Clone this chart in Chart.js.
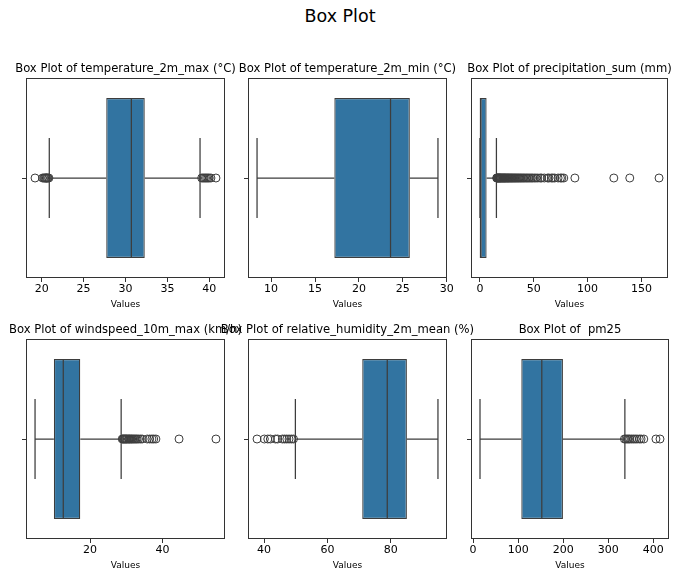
<!DOCTYPE html>
<html>
<head>
<meta charset="utf-8">
<script src="https://cdn.jsdelivr.net/npm/chart.js@4.4.1/dist/chart.umd.min.js"></script>
<style>
  html, body { margin: 0; padding: 0; background: #fff; }
  #page { position: relative; width: 680px; height: 580px; overflow: hidden; font-family: "DejaVu Sans", sans-serif; }
  #mainTitle { position: absolute; left: 0; top: 8px; width: 680px; text-align: center; font-size: 17.5px; line-height: 17.5px; color: #000; }
  canvas { position: absolute; }
</style>
</head>
<body>
<div id="page">
  <div id="mainTitle">Box Plot</div>
</div>
<script>
// Values (one entry per panel)
const panelTitles = [
    'Box Plot of temperature_2m_max (°C)',
    'Box Plot of temperature_2m_min (°C)',
    'Box Plot of precipitation_sum (mm)',
    'Box Plot of windspeed_10m_max (km/h)',
    'Box Plot of relative_humidity_2m_mean (%)',
    'Box Plot of  pm25'
];
const q1 = [27.7, 17.2, 0.0, 10.0, 71.0, 107];
const medians = [30.7, 23.6, 0.5, 12.6, 78.9, 152.5];
const q3 = [32.3, 25.8, 6.2, 17.3, 85.1, 199.5];
const whiskerLow = [20.9, 8.4, 0.0, 4.8, 49.9, 15.3];
const whiskerHigh = [38.9, 29.0, 15.3, 28.6, 94.9, 337];

const tempMaxOutliers = [19.2, 20.1, 20.25, 20.35, 20.45, 20.55, 20.65, 20.75, 20.85,
    39.1, 39.25, 39.4, 39.55, 39.7, 39.85, 40.0, 40.2, 40.8];
const tempMinOutliers = [];
const precipOutliers = [
    15.5, 15.9, 16.3, 16.8, 17.2, 17.7, 18.1, 18.6, 19.0, 19.5, 20.1, 20.6, 21.2, 21.7,
    22.3, 22.9, 23.4, 24.0, 24.7, 25.3, 26.0, 26.6, 27.3, 28.0, 28.8, 29.5, 30.3, 31.1,
    32.0, 32.8, 33.7, 34.6, 35.5, 36.4, 37.4, 38.3, 39.4, 40.5, 41.6, 42.8, 43.9, 45.1,
    46.4, 47.7, 49.0, 50.6, 52.1, 53.8, 55.9, 57.2, 59.8, 62.9, 64.1, 66.3, 67.7, 69.4,
    72.6, 74.8, 76.1, 77.9, 88.2, 124.4, 139.2, 166.4
];
const windOutliers = [28.9, 29.1, 29.3, 29.5, 29.7, 29.9, 30.1, 30.3, 30.6, 30.8, 31.0, 31.3,
    31.5, 31.8, 32.1, 32.4, 32.7, 33.0, 33.4, 33.9, 34.4, 35.8, 36.5, 37.1, 37.6, 38.2, 44.6, 54.8];
const humidityOutliers = [37.8, 40.1, 41.2, 42.0, 43.6, 44.3, 45.8, 46.5, 47.2, 47.9, 48.6, 49.3];
const pm25Outliers = [336, 339, 342, 345, 348, 352, 356, 360, 364, 369, 373, 379, 406, 415];
const outliers = [tempMaxOutliers, tempMinOutliers, precipOutliers, windOutliers, humidityOutliers, pm25Outliers];

const xTicks = [
    [20, 25, 30, 35, 40],
    [10, 15, 20, 25, 30],
    [0, 50, 100, 150],
    [20, 40],
    [40, 60, 80],
    [0, 100, 200, 300, 400]
];

// Layout of the 2x3 grid (plot area of each panel, in page pixels)
const axLeft = [26, 248, 471, 26, 248, 471];
const axTop = [78, 78, 78, 339, 339, 339];
const axWidth = [199, 199, 197, 199, 199, 198];
const AX_HEIGHT = 200;
const SIDE = 40, TOP = 28, BOTTOM = 40;

const FONT = '"DejaVu Sans", sans-serif';
const boxFill = '#3274a1';
const lineColor = '#3d3d3d';

// whiskers, caps, median, frame and panel title
const boxDecor = {
    id: 'boxDecor',
    beforeDatasetsDraw(chart, args, opts) {
        const i = opts.panel;
        const x = chart.scales.x;
        const bar = chart.getDatasetMeta(0).data[0];
        const ctx = chart.ctx;
        const yc = bar.y, cap = bar.height / 4;
        ctx.save();
        ctx.strokeStyle = lineColor;
        ctx.lineWidth = 1.25;
        ctx.beginPath();
        ctx.moveTo(x.getPixelForValue(whiskerLow[i]), yc);
        ctx.lineTo(x.getPixelForValue(q1[i]), yc);
        ctx.moveTo(x.getPixelForValue(q3[i]), yc);
        ctx.lineTo(x.getPixelForValue(whiskerHigh[i]), yc);
        [whiskerLow[i], whiskerHigh[i]].forEach(v => {
            const px = x.getPixelForValue(v);
            ctx.moveTo(px, yc - cap);
            ctx.lineTo(px, yc + cap);
        });
        ctx.stroke();
        ctx.restore();
    },
    afterDatasetsDraw(chart, args, opts) {
        const i = opts.panel;
        const bar = chart.getDatasetMeta(0).data[0];
        const px = chart.scales.x.getPixelForValue(medians[i]);
        const ctx = chart.ctx;
        ctx.save();
        ctx.strokeStyle = lineColor;
        ctx.lineWidth = 1.25;
        ctx.beginPath();
        ctx.moveTo(px, bar.y - bar.height / 2);
        ctx.lineTo(px, bar.y + bar.height / 2);
        ctx.stroke();
        ctx.restore();
    },
    afterDraw(chart, args, opts) {
        const a = chart.chartArea;
        const ctx = chart.ctx;
        ctx.save();
        ctx.strokeStyle = '#333';
        ctx.lineWidth = 1;
        ctx.strokeRect(a.left + 0.5, a.top + 0.5, a.right - a.left - 1, a.bottom - a.top - 1);
        ctx.fillStyle = '#000';
        ctx.font = '11.6px ' + FONT;
        ctx.textAlign = 'center';
        ctx.textBaseline = 'alphabetic';
        ctx.fillText(panelTitles[opts.panel], (a.left + a.right) / 2, a.top - 6.3);
        ctx.restore();
    }
};

const page = document.getElementById('page');

panelTitles.forEach((title, i) => {
    const canvas = document.createElement('canvas');
    const w = axWidth[i] + 2 * SIDE;
    const h = TOP + AX_HEIGHT + BOTTOM;
    canvas.width = w;
    canvas.height = h;
    canvas.style.width = w + 'px';
    canvas.style.height = h + 'px';
    canvas.style.left = (axLeft[i] - SIDE) + 'px';
    canvas.style.top = (axTop[i] - TOP) + 'px';
    page.appendChild(canvas);

    // matplotlib-style 5% margins around the data
    const lo = Math.min(whiskerLow[i], ...outliers[i]);
    const hi = Math.max(whiskerHigh[i], ...outliers[i]);
    const pad = (hi - lo) * 0.05;

    new Chart(canvas, {
        type: 'bar',
        data: {
            labels: [''],
            datasets: [
                {
                    type: 'bar',
                    data: [[q1[i], q3[i]]],
                    backgroundColor: boxFill,
                    borderColor: lineColor,
                    borderWidth: 1.25,
                    borderSkipped: false,
                    barPercentage: 0.8,
                    categoryPercentage: 1.0
                },
                {
                    type: 'scatter',
                    data: outliers[i].map(v => ({ x: v, y: '' })),
                    pointRadius: 4,
                    pointBorderWidth: 1,
                    pointBorderColor: lineColor,
                    pointBackgroundColor: 'rgba(0,0,0,0)'
                }
            ]
        },
        options: {
            indexAxis: 'y',
            responsive: false,
            animation: false,
            devicePixelRatio: 1,
            events: [],
            layout: { padding: { top: TOP, left: SIDE, right: SIDE, bottom: 0 } },
            plugins: {
                legend: { display: false },
                tooltip: { enabled: false },
                boxDecor: { panel: i }
            },
            scales: {
                x: {
                    type: 'linear',
                    position: 'bottom',
                    min: lo - pad,
                    max: hi + pad,
                    afterBuildTicks: s => { s.ticks = xTicks[i].map(v => ({ value: v })); },
                    afterFit: s => { s.height = BOTTOM; },
                    grid: { display: true, drawOnChartArea: false, drawTicks: true, tickLength: 4, color: '#333' },
                    border: { display: false },
                    ticks: { color: '#000', font: { family: FONT, size: 11 }, padding: 1, maxRotation: 0 },
                    title: { display: true, text: 'Values', color: '#000', font: { family: FONT, size: 9 }, padding: { top: 0, bottom: 7.6 } }
                },
                y: {
                    type: 'category',
                    position: 'left',
                    offset: true,
                    afterFit: s => { s.width = 0; },
                    grid: { display: true, offset: false, drawOnChartArea: false, drawTicks: true, tickLength: 4, color: '#333' },
                    border: { display: false },
                    ticks: { display: false }
                }
            }
        },
        plugins: [boxDecor]
    });
});
</script>
</body>
</html>
